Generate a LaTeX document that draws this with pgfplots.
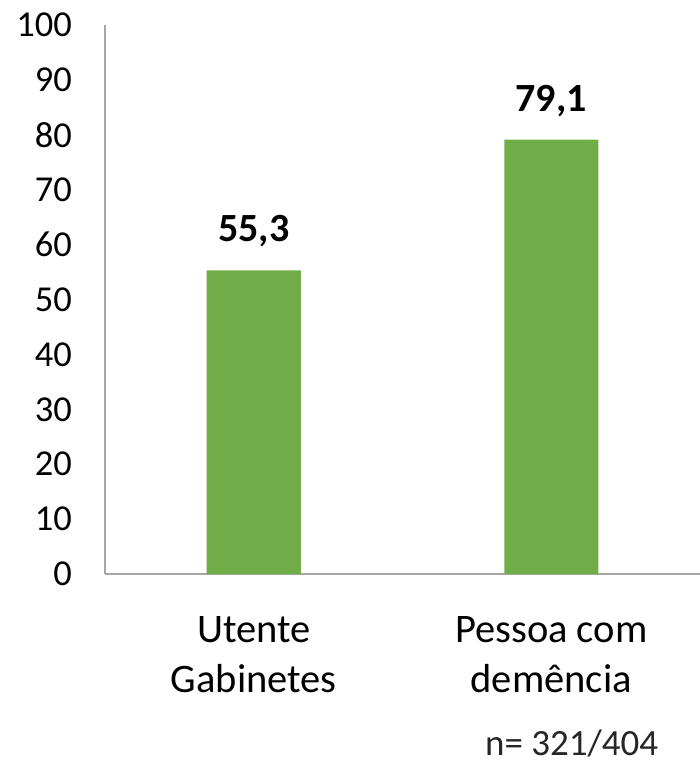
\documentclass[border=0pt]{standalone}
\usepackage{pgfplots}
\pgfplotsset{compat=1.18}
\usepackage{fontspec}
\setmainfont{Carlito}
\definecolor{bargreen}{HTML}{70AD47}
\definecolor{axgray}{HTML}{A6A6A6}
\begin{document}
\begin{tikzpicture}
\useasboundingbox (-105pt,-192pt) rectangle (595pt,574pt);
\begin{axis}[
  at={(0pt,0pt)}, anchor=south west,
  scale only axis,
  width=595pt, height=549pt,
  xmin=-0.5, xmax=1.5,
  ymin=0, ymax=100,
  ytick={0,10,...,100},
  xtick={0,1},
  xticklabels={Utente\\Gabinetes, Pessoa com\\demência},
  axis x line*=bottom,
  axis y line*=left,
  axis line style={axgray, line width=1.5pt},
  major tick length=0pt,
  /pgf/number format/assume math mode=true,
  yticklabel style={font=\fontsize{36.5}{42}\selectfont, anchor=east, inner sep=0pt, xshift=-33pt},
  xticklabel style={font=\fontsize{40.5}{50}\selectfont, align=center, anchor=north, inner sep=0pt, yshift=-42pt},
  ybar, bar width=94pt, bar shift=0pt,
  nodes near coords={\pgfmathprintnumber[fixed, fixed zerofill, precision=1, use comma]{\pgfplotspointmeta}},
  every node near coord/.append style={font=\fontsize{40}{48}\selectfont\bfseries, anchor=south, inner sep=0pt, yshift=23pt, /pgf/number format/assume math mode=true},
  clip=false,
]
\addplot[fill=bargreen, draw=none] coordinates {(0,55.3) (1,79.1)};
\end{axis}
\node[anchor=base west, inner sep=0pt, text=black!85, font=\fontsize{37}{43}\selectfont] at (380pt,-181pt) {n= 321/404};
\end{tikzpicture}
\end{document}
